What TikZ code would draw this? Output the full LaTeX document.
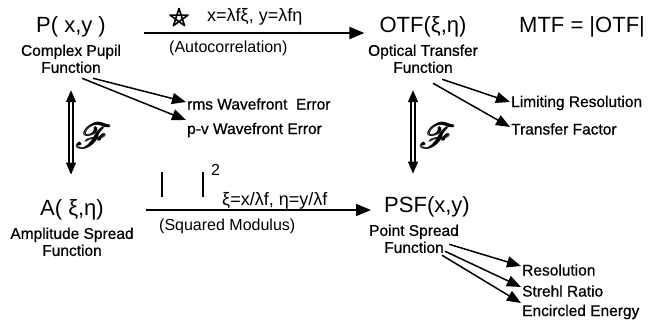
\documentclass[tikz,border=0pt]{standalone}
\usepackage{fontspec}
\setmainfont{Liberation Sans}
\newfontfamily\heavysans[FakeBold=0.7]{Liberation Sans}
\usepackage{amsmath}
\usepackage{mathrsfs}
\usetikzlibrary{arrows.meta, positioning}

\begin{document}
\begin{tikzpicture}[
    x=1pt, y=-1pt,
    title/.style={inner sep=1pt, font=\fontsize{22}{24}\selectfont},
    desc/.style={inner sep=1pt, align=center, font=\heavysans\fontsize{15.5}{17}\selectfont},
    note/.style={inner sep=1pt, anchor=west, font=\heavysans\fontsize{15.5}{17}\selectfont},
    lbl/.style={inner sep=1pt, anchor=west, font=\fontsize{16}{18}\selectfont},
    ftr/.style={inner sep=0pt, font=\fontsize{24}{26}\selectfont},
    arr/.style={-{Triangle[length=15pt,width=12pt]}, line width=1.8pt},
    fan/.style={-{Triangle[length=14pt,width=11pt]}, line width=1.5pt},
    dbl/.style={double, double distance=2.5pt, line width=1.3pt,
                {Triangle[length=12pt,width=10pt]}-{Triangle[length=12pt,width=10pt]}}
]
\useasboundingbox (0,0) rectangle (661,324);
% Pupil function
\node[title] (P) at (71,27) {P( x,y )};
\node[desc, below=5pt of P] (Pd) {Complex Pupil\\Function};
% OTF and MTF
\node[title] (O) at (423,27) {OTF(ξ,η)};
\node[desc, below=5pt of O] (Od) {Optical Transfer\\Function};
\node[title, anchor=west] (M) at (518,27) {MTF = |OTF|};
% Amplitude spread
\node[title] (A) at (72,210) {A( ξ,η)};
\node[desc, below=5pt of A] (Ad) {Amplitude Spread\\Function};
% PSF
\node[title] (S) at (427,207) {PSF(x,y)};
\node[desc, below=5pt of S, xshift=-13pt] (Sd) {Point Spread\\Function};

% Top transform
\coordinate (star) at (179,18);
\draw[line width=1.6pt, line join=round] (star) +(270:9.5) -- +(54:9.5) -- +(198:9.5)
    -- +(342:9.5) -- +(126:9.5) -- cycle;
\node[lbl, font=\fontsize{18}{20}\selectfont] (eqtop) at (206,17) {x=λfξ, y=λfη};
\node[lbl] (auto) at (168,48) {(Autocorrelation)};
\draw[arr, shorten <=37pt, shorten >=14pt] ([yshift=-6pt]P.east) -- ([yshift=-6pt]P.east -| O.west);

% Bottom transform
\coordinate (bar) at (162,172);
\draw[line width=1.6pt] (bar) -- +(0,25);
\draw[line width=1.6pt] (bar) +(41,0) -- +(41,25);
\node[lbl] (sq) at (210,170) {2};
\node[lbl, font=\fontsize{18}{20}\selectfont] (eqbot) at (221,201) {ξ=x/λf, η=y/λf};
\node[lbl] (modl) at (158,226) {(Squared Modulus)};
\draw[arr, shorten <=41pt, shorten >=12pt] (A.east) -- (A.east -| S.west);

% Fourier pairs
\draw[dbl, shorten <=16pt, shorten >=24pt] (Pd.south) -- (Pd.south |- A.north);
\node[ftr] (F1) at (94,136) {\scalebox{1.4}{$\pmb{\mathscr{F}}$}};
\draw[dbl, shorten <=16pt, shorten >=22pt] ([xshift=-10pt]Od.south) -- ([xshift=-10pt]Od.south |- S.north);
\node[ftr] (F2) at (438,136) {\scalebox{1.4}{$\pmb{\mathscr{F}}$}};

% Metrics
\node[note] (rms) at (186,104) {rms Wavefront\ \ Error};
\node[note] (pv) at (186,130) {p-v Wavefront Error};
\node[note] (lim) at (510,103) {Limiting Resolution};
\node[note] (tf) at (510,129) {Transfer Factor};
\node[note] (res) at (521,270) {Resolution};
\node[note] (str) at (521,291) {Strehl Ratio};
\node[note] (enc) at (521,312) {Encircled Energy};

\draw[fan] ([xshift=22pt,yshift=-4pt]Pd.south) -- ([yshift=2pt]rms.west);
\draw[fan] ([xshift=11pt,yshift=-4pt]Pd.south) -- ([yshift=10pt]pv.west);
\draw[fan] ([xshift=19pt,yshift=-5pt]Od.south) -- ([yshift=1pt]lim.west);
\draw[fan] ([xshift=10pt,yshift=-9pt]Od.south) -- ([yshift=2pt]tf.west);
\draw[fan] ([xshift=35pt,yshift=10pt]Sd.south) -- ([yshift=4pt]res.west);
\draw[fan] ([xshift=31pt,yshift=3pt]Sd.south) -- ([yshift=4pt]str.west);
\draw[fan] ([xshift=28pt,yshift=-1pt]Sd.south) -- ([yshift=9pt]enc.west);
\end{tikzpicture}
\end{document}
